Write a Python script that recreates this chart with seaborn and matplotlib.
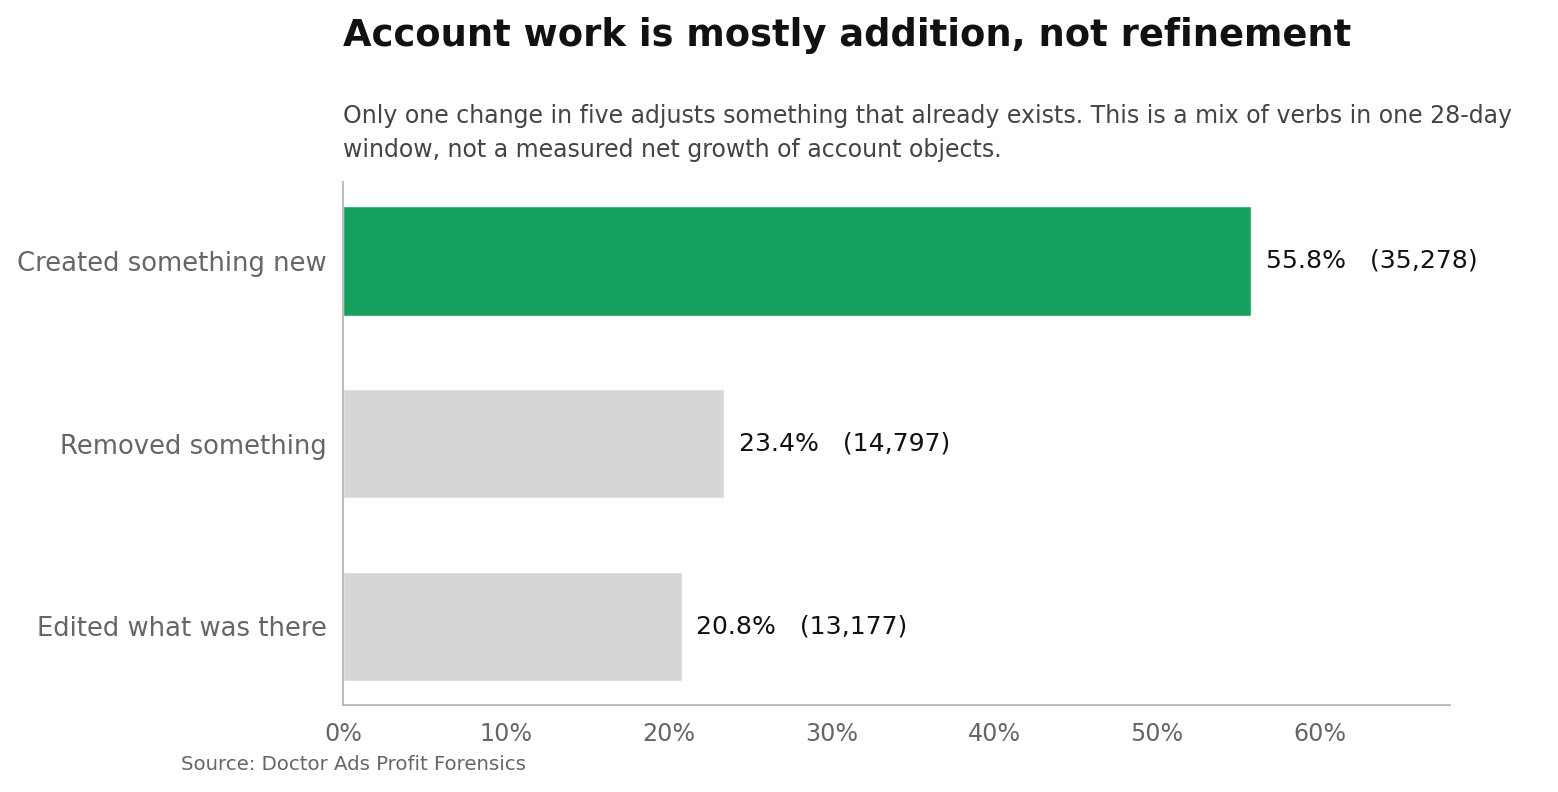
import matplotlib
matplotlib.use("Agg")
import matplotlib.pyplot as plt
import seaborn as sns
import pandas as pd

# data
categories = ["Created something new", "Removed something", "Edited what was there"]
shares = [55.8, 23.4, 20.8]
counts = [35278, 14797, 13177]
bar_colors = ["#15a15d", "#d6d6d6", "#d6d6d6"]

df = pd.DataFrame({"verb": categories, "share": shares, "count": counts})

sns.set_style("white")
plt.rcParams["font.family"] = ["DejaVu Sans"]

fig = plt.figure(figsize=(15.58, 7.92), dpi=100)
ax = fig.add_axes([0.2202, 0.1098, 0.7105, 0.6604])

sns.barplot(data=df, x="share", y="verb", hue="verb", palette=bar_colors,
            width=0.6, legend=False, ax=ax, saturation=1)

for i, row in df.iterrows():
    ax.text(row["share"] + 0.9, i, f"{row['share']:.1f}%   ({row['count']:,})",
            va="center", ha="left", fontsize=18.1, color="#111111")

ax.set_xlim(0, 68)
ax.set_ylim(2.43, -0.43)
ax.set_xticks([0, 10, 20, 30, 40, 50, 60])
ax.set_xticklabels([f"{t}%" for t in range(0, 70, 10)])
ax.set_xlabel("")
ax.set_ylabel("")

sns.despine(ax=ax)
for s in ["left", "bottom"]:
    ax.spines[s].set_color("#b5b5b5")
    ax.spines[s].set_linewidth(1.3)
ax.tick_params(axis="both", colors="#777777", length=7, width=1.3, pad=5,
               labelcolor="#666666")
ax.tick_params(axis="x", labelsize=17.2)
ax.tick_params(axis="y", labelsize=18.6)

fig.text(0.2202, 1 - 46 / 792, "Account work is mostly addition, not refinement",
         fontsize=26.6, fontweight="bold", color="#111111", va="baseline", ha="left")
fig.text(0.2202, 1 - 157 / 792,
         "Only one change in five adjusts something that already exists. This is a mix of verbs in one 28-day\n"
         "window, not a measured net growth of account objects.",
         fontsize=17, color="#444444", va="baseline", ha="left", linespacing=1.55)
fig.text(181 / 1558, 1 - 770 / 792, "Source: Doctor Ads Profit Forensics",
         fontsize=14.2, color="#666666", va="baseline", ha="left")

fig.savefig("out.png", dpi=100)
